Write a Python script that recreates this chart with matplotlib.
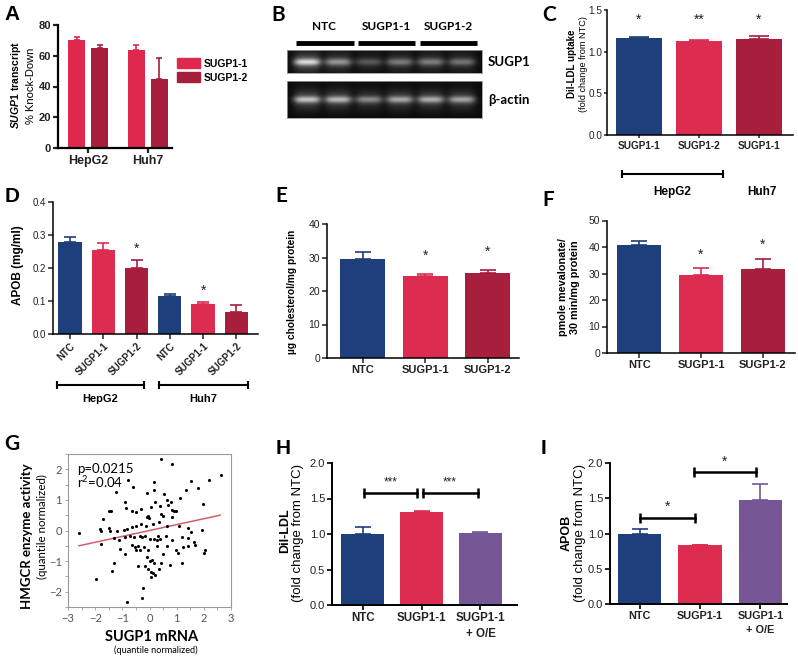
import numpy as np
import matplotlib
matplotlib.use('Agg')
import matplotlib.pyplot as plt
from matplotlib.patches import Patch
from matplotlib.transforms import blended_transform_factory as blend

plt.rcParams['font.family'] = ['Liberation Sans', 'DejaVu Sans']
plt.rcParams['mathtext.fontset'] = 'custom'
plt.rcParams['mathtext.it'] = 'Liberation Sans:italic:bold'
plt.rcParams['mathtext.rm'] = 'Liberation Sans:bold'

NAVY = '#1e3f7b'
PINK = '#dc2c50'
CRIMSON = '#a81e3d'
PURPLE = '#765694'
A_PINK = '#e0284f'
A_RED = '#a61e3c'

# ---- data ----
a_groups = ['HepG2', 'Huh7']
a_sugp1_1 = [70.0, 63.5]
a_sugp1_1_err = [2.0, 3.5]
a_sugp1_2 = [65.0, 45.0]
a_sugp1_2_err = [2.2, 13.5]

b_groups = ['NTC', 'SUGP1-1', 'SUGP1-2']
b_sugp1_band = [0.9, 0.6, 0.33, 0.48, 0.5, 0.45]
b_actin_band = [0.8, 0.75, 0.55, 0.68, 0.7, 0.66]

c_labels = ['SUGP1-1', 'SUGP1-2', 'SUGP1-1']
c_values = [1.17, 1.13, 1.155]
c_err = [0.005, 0.015, 0.03]
c_stars = ['*', '**', '*']

d_labels = ['NTC', 'SUGP1-1', 'SUGP1-2', 'NTC', 'SUGP1-1', 'SUGP1-2']
d_values = [0.28, 0.255, 0.20, 0.115, 0.09, 0.067]
d_err = [0.015, 0.021, 0.023, 0.005, 0.007, 0.02]
d_stars = ['', '', '*', '', '*', '']

e_labels = ['NTC', 'SUGP1-1', 'SUGP1-2']
e_values = [29.7, 24.4, 25.4]
e_err = [1.8, 0.8, 1.0]
e_stars = ['', '*', '*']

f_labels = ['NTC', 'SUGP1-1', 'SUGP1-2']
f_values = [40.8, 29.6, 31.8]
f_err = [1.6, 2.3, 3.7]
f_stars = ['', '*', '*']

g_x = [0.42, 0.84, 2.63, -0.79, 0.17, 1.53, 2.2, -1.25, -0.6, -0.09, 0.16, 0.54,
       1.33, 1.77, 1.12, 0.66, -0.89, 0.2, 0.79, 1.98, -0.88, -0.3, 0.04, 0.38,
       0.69, -1.5, -1.4, -0.66, -0.5, -0.05, -0.09, -0.02, 0.42, 0.5, 0.81, 0.91,
       0.84, 0.97, -1.73, -0.3, -0.13, 0.14, 0.36, 0.63, 1.09, 1.4, 1.93, -2.6,
       -1.83, -1.77, -1.5, -1.46, -1.19, -0.95, -0.84, -0.64, -0.48, -1.8, -1.3,
       -1.12, -0.89, -0.73, -0.57, -0.36, -0.26, -0.15, 0.01, 0.16, 0.3, 0.28,
       0.38, 0.59, 0.81, 1.18, 1.4, 1.65, 1.67, 1.51, -1.08, -0.91, -0.63, -0.54,
       -0.5, -0.42, -0.36, -0.2, -0.07, 0.26, 0.48, 0.63, 0.98, 1.06, 1.22, 1.43,
       2.04, 2.0, -1.3, -1.38, -0.42, -0.15, -0.05, 0.01, 0.1, 0.17, 0.14, 0.22,
       0.36, 0.44, 0.75, 1.18, 0.07, -1.96, -0.23, -0.26, -0.81, 0.05, -0.11]
g_y = [2.33, 2.18, 1.83, 1.66, 1.58, 1.62, 1.65, 1.25, 1.43, 1.23, 1.31, 1.18,
       1.32, 1.38, 1.05, 0.99, 0.93, 0.94, 0.93, 0.88, 0.74, 0.71, 0.77, 0.79,
       0.82, 0.63, 0.63, 0.63, 0.6, 0.49, 0.44, 0.41, 0.55, 0.49, 0.44, 0.63,
       0.68, 0.65, 0.38, 0.21, 0.14, 0.21, 0.28, 0.14, 0.16, 0.08, 0.03, -0.08,
       0.05, 0.0, 0.08, -0.03, -0.03, 0.03, 0.05, 0.1, 0.14, -0.44, -0.25,
       -0.3, -0.21, -0.19, -0.22, -0.17, -0.21, -0.17, -0.28, -0.28, -0.17, -0.3,
       -0.27, -0.19, -0.3, -0.21, -0.25, -0.36, -0.47, -0.05, -0.61, -0.78, -0.47, -0.54,
       -0.63, -0.52, -0.63, -0.54, -0.63, -0.5, -0.77, -0.5, -0.65, -0.72, -0.54, -0.52,
       -0.63, -0.74, -1.07, -1.31, -1.16, -1.16, -1.27, -1.01, -0.96, -1.07, -1.4, -1.47,
       -1.27, -1.07, -1.12, -1.07, -1.51, -1.58, -1.89, -2.19, -2.33, -1.34, -0.85]
g_fit_x = [-2.6, 2.6]
g_fit_y = [-0.5, 0.5]

hi_labels = ['NTC', 'SUGP1-1', 'SUGP1-1\n+ O/E']
h_values = [1.0, 1.31, 1.02]
h_err = [0.1, 0.01, 0.005]
i_values = [1.0, 0.83, 1.48]
i_err = [0.06, 0.01, 0.22]

W, H = 798, 658
fig = plt.figure(figsize=(W / 100, H / 100), dpi=100)


def add_ax(l, t, r, b):
    return fig.add_axes([l / W, 1 - b / H, (r - l) / W, (b - t) / H])


def ftext(x, y, s, **kw):
    fig.text(x / W, 1 - y / H, s, ha=kw.pop('ha', 'center'), va=kw.pop('va', 'center'), **kw)


def style(ax, lw=1.1, size=7.5, weight='normal', length=3.5):
    for s in ['top', 'right']:
        ax.spines[s].set_visible(False)
    for s in ['left', 'bottom']:
        ax.spines[s].set_linewidth(lw)
    ax.tick_params(length=length, width=lw, labelsize=size, colors='#222', pad=1.5)
    for t in ax.get_yticklabels():
        t.set_fontweight(weight)


def bars(ax, x, values, err, colors, width, capsize):
    ax.bar(x, values, width, color=colors, zorder=2)
    for xi, v, e, c in zip(x, values, err, colors):
        ax.errorbar(xi, v, yerr=[[0], [e]], color=c, capsize=capsize,
                    elinewidth=1.2, capthick=1.2, zorder=3)


def stars(ax, x, values, err, marks, pad, size=10):
    for xi, v, e, m in zip(x, values, err, marks):
        if m:
            ax.text(xi, v + e + pad, m, ha='center', va='center', fontsize=size, color='#222')


def bracket(ax, x0, x1, y, trans, lw=1.5, ms=6):
    ax.plot([x0, x1], [y, y], color='k', lw=lw, marker='|', markersize=ms,
            mew=lw, transform=trans, clip_on=False)


# panel letters
for lab, x, y, fam in [('A', 12, 15, 'Liberation Sans'), ('B', 278, 15, 'Lato'),
                       ('C', 549, 15, 'Lato'), ('D', 12, 197, 'Liberation Sans'),
                       ('E', 281, 196, 'Lato'), ('F', 548, 200, 'Lato'),
                       ('G', 12, 444, 'Lato'), ('H', 283, 448, 'Liberation Sans'),
                       ('I', 543, 448, 'Liberation Sans')]:
    ftext(x, y, lab, fontsize=15, fontweight='bold', family=fam)

# ---- A ----
ax = add_ax(58, 25, 172, 148)
xa = np.arange(len(a_groups))
off = 0.193
bars(ax, xa - off, a_sugp1_1, a_sugp1_1_err, [A_PINK] * 2, 0.286, 2.5)
bars(ax, xa + off, a_sugp1_2, a_sugp1_2_err, [A_RED] * 2, 0.286, 2.5)
ax.set_xlim(-0.504, 1.41)
ax.set_ylim(0, 80)
ax.set_yticks([0, 20, 40, 60, 80])
ax.set_xticks(xa)
ax.set_xticklabels(a_groups, fontweight='bold', fontsize=9)
style(ax, lw=1.6, size=8, weight='bold')
ax.tick_params(axis='x', labelsize=9)
ftext(16, 85, r'$\it{SUGP1}$ transcript', rotation=90, fontsize=7.5, fontweight='bold')
ftext(31, 86, '% Knock-Down', rotation=90, fontsize=8)
fig.legend(handles=[Patch(color=A_PINK, label='SUGP1-1'), Patch(color=A_RED, label='SUGP1-2')],
           loc='upper left', bbox_to_anchor=(177 / W, 1 - 58 / H), frameon=False,
           prop={'weight': 'bold', 'size': 7.5}, handlelength=2.2, handleheight=1.1,
           handletextpad=0.4, borderpad=0, borderaxespad=0, labelspacing=0.35)


# ---- B ----
def blot_image(intensity, yc, sig):
    xs = np.linspace(-0.65, 5.65, 390)
    ys = np.linspace(0, 1, 80)
    X, Y = np.meshgrid(xs, ys)
    img = np.full(X.shape, 0.05)
    for i, v in enumerate(intensity):
        lane = np.exp(-((X - i) / 0.44) ** 4)
        core = np.exp(-((Y - yc) / sig) ** 2)
        glow = np.exp(-((Y - yc) / (sig * 3)) ** 2)
        img += v * lane * (0.6 * core + 0.3 * glow)
    return img


axb1 = add_ax(287, 50, 482, 73)
axb1.imshow(blot_image(b_sugp1_band, 0.52, 0.15), extent=(-0.65, 5.65, 1, 0),
            aspect='auto', cmap='gray', vmin=0, vmax=1)
axb2 = add_ax(287, 81, 482, 118)
axb2.imshow(blot_image(b_actin_band, 0.5, 0.09), extent=(-0.65, 5.65, 1, 0),
            aspect='auto', cmap='gray', vmin=0, vmax=1)
for a in (axb1, axb2):
    a.set_xticks([])
    a.set_yticks([])
    for s in a.spines.values():
        s.set_color('#999')
        s.set_linewidth(0.6)
tb = blend(axb1.transData, axb1.transAxes)
for g, name in enumerate(b_groups):
    axb1.plot([2 * g - 0.35, 2 * g + 1.5], [1.3, 1.3], color='k', lw=3.5,
              solid_capstyle='butt', transform=tb, clip_on=False)
    axb1.text(2 * g + 0.55, 2.0, name, transform=tb, ha='center', va='center',
              fontsize=8.5, fontweight='bold', family='Lato')
ftext(488, 62, 'SUGP1', ha='left', fontsize=9.5, fontweight='bold', family='Lato')
ftext(488, 100, 'β-actin', ha='left', fontsize=9.5, fontweight='bold', family='Lato')

# ---- C ----
ax = add_ax(607, 10, 793, 135)
xc = np.arange(len(c_labels))
bars(ax, xc, c_values, c_err, [NAVY, PINK, CRIMSON], 0.77, 7)
ax.set_xlim(-0.53, 2.57)
ax.set_ylim(0, 1.5)
ax.set_yticks([0, 0.5, 1.0, 1.5])
ax.set_yticklabels(['0.0', '0.5', '1.0', '1.5'])
ax.set_xticks(xc)
ax.set_xticklabels(c_labels, fontweight='bold')
style(ax, size=7.2, length=2.5)
ax.tick_params(axis='y', pad=0.8)
for xi, m in zip(xc, c_stars):
    ax.text(xi, 1.38, m, ha='center', va='center', fontsize=10, color='#222')
tc = blend(ax.transData, ax.transAxes)
bracket(ax, -0.28, 1.4, -0.312, tc)
ax.text(0.56, -0.456, 'HepG2', transform=tc, ha='center', va='center', fontsize=8.5, fontweight='bold')
ax.text(2.06, -0.456, 'Huh7', transform=tc, ha='center', va='center', fontsize=8.5, fontweight='bold')
ftext(572, 64, 'DiI-LDL uptake', rotation=90, fontsize=7, fontweight='bold')
ftext(584, 64, '(fold change from NTC)', rotation=90, fontsize=6.6)

# ---- D ----
ax = add_ax(53, 202, 258, 334)
xd = np.arange(len(d_labels))
bars(ax, xd, d_values, d_err, [NAVY, PINK, CRIMSON] * 2, 0.7, 4.5)
ax.set_xlim(-0.51, 5.65)
ax.set_ylim(0, 0.4)
ax.set_yticks([0, 0.1, 0.2, 0.3, 0.4])
ax.set_yticklabels(['0.0', '0.1', '0.2', '0.3', '0.4'])
ax.set_xticks(xd)
ax.set_xticklabels(d_labels, fontweight='bold', rotation=45, ha='right', rotation_mode='anchor')
style(ax, size=7)
stars(ax, xd, d_values, d_err, d_stars, 0.035)
td = blend(ax.transData, ax.transAxes)
bracket(ax, -0.39, 2.22, -0.386, td)
bracket(ax, 2.67, 5.35, -0.386, td)
ax.text(0.9, -0.49, 'HepG2', transform=td, ha='center', va='center', fontsize=8, fontweight='bold')
ax.text(4.0, -0.49, 'Huh7', transform=td, ha='center', va='center', fontsize=8, fontweight='bold')
ftext(18, 265, 'APOB (mg/ml)', rotation=90, fontsize=8.5, fontweight='bold')

# ---- E ----
ax = add_ax(327, 224, 519, 358)
xe = np.arange(len(e_labels))
bars(ax, xe, e_values, e_err, [NAVY, PINK, CRIMSON], 0.72, 6)
ax.set_xlim(-0.57, 2.5)
ax.set_ylim(0, 40)
ax.set_yticks([0, 10, 20, 30, 40])
ax.set_xticks(xe)
ax.set_xticklabels(e_labels, fontweight='bold', fontsize=8)
style(ax)
ax.tick_params(axis='x', labelsize=8)
stars(ax, xe, e_values, e_err, e_stars, 5.2)
ftext(292, 292, 'µg cholesterol/mg protein', rotation=90, fontsize=7.3, fontweight='bold')

# ---- F ----
ax = add_ax(607, 220.5, 795, 353)
xf = np.arange(len(f_labels))
bars(ax, xf, f_values, f_err, [NAVY, PINK, CRIMSON], 0.72, 6)
ax.set_xlim(-0.52, 2.52)
ax.set_ylim(0, 50)
ax.set_yticks([0, 10, 20, 30, 40, 50])
ax.set_xticks(xf)
ax.set_xticklabels(f_labels, fontweight='bold', fontsize=8)
style(ax)
ax.tick_params(axis='x', labelsize=8)
stars(ax, xf, f_values, f_err, f_stars, 5.2)
ftext(563, 287, 'pmole mevalonate/', rotation=90, fontsize=7.8, fontweight='bold')
ftext(575, 287, '30 min/mg protein', rotation=90, fontsize=7.8, fontweight='bold')

# ---- G ----
ax = add_ax(68, 454, 231, 607)
ax.scatter(g_x, g_y, s=5, color='k', zorder=3, linewidths=0)
ax.plot(g_fit_x, g_fit_y, color='#d06070', lw=1.1, zorder=2)
ax.set_xlim(-3, 3)
ax.set_ylim(-2.5, 2.5)
ax.set_xticks(range(-3, 4))
ax.set_yticks(range(-2, 3))
ax.set_xticks(np.arange(-3, 3.01, 0.5), minor=True)
ax.set_yticks(np.arange(-2.5, 2.51, 0.5), minor=True)
for s in ax.spines.values():
    s.set_color('#999')
    s.set_linewidth(0.8)
ax.tick_params(which='both', length=2.5, width=0.6, color='#999', labelsize=8,
               labelcolor='#555', pad=2)
for t in ax.get_xticklabels() + ax.get_yticklabels():
    t.set_family('Lato')
ax.text(0.055, 0.9, 'p=0.0215', transform=ax.transAxes, fontsize=9.5, family='Lato', va='center')
ax.text(0.055, 0.815, r'r$^\mathregular{2}$=0.04', transform=ax.transAxes, fontsize=9.5, family='Lato', va='center')
ftext(27, 536, 'HMGCR enzyme activity', rotation=90, fontsize=9.5, fontweight='bold', family='Lato')
ftext(42, 527, '(quantile normalized)', rotation=90, fontsize=8.3, family='Lato')
ftext(152, 637, 'SUGP1 mRNA', fontsize=10.5, fontweight='bold', family='Lato')
ftext(156, 650, '(quantile normalized)', fontsize=6.6, family='Lato')

# ---- H ----
ax = add_ax(332, 463, 517, 605)
xh = np.arange(len(hi_labels))
bars(ax, xh, h_values, h_err, [NAVY, PINK, PURPLE], 0.73, 6)
ax.set_xlim(-0.52, 2.62)
ax.set_ylim(0, 2.0)
ax.set_yticks([0, 0.5, 1.0, 1.5, 2.0])
ax.set_yticklabels(['0.0', '0.5', '1.0', '1.5', '2.0'])
ax.set_xticks(xh)
ax.set_xticklabels(hi_labels, fontweight='bold', fontsize=8.3, linespacing=1.5, va='top')
style(ax, lw=1.4, size=8)
ax.tick_params(axis='x', labelsize=8.3)
bracket(ax, 0.02, 0.93, 1.58, ax.transData, lw=1.8, ms=7)
bracket(ax, 1.02, 1.95, 1.58, ax.transData, lw=1.8, ms=7)
ax.text(0.47, 1.72, '***', ha='center', va='center', fontsize=8.5, color='#222')
ax.text(1.48, 1.72, '***', ha='center', va='center', fontsize=8.5, color='#222')
ftext(285, 531, 'DiI-LDL', rotation=90, fontsize=9, fontweight='bold')
ftext(298, 533, '(fold change from NTC)', rotation=90, fontsize=9.5)

# ---- I ----
ax = add_ax(610, 463, 787, 604)
xi_ = np.arange(len(hi_labels))
bars(ax, xi_, i_values, i_err, [NAVY, PINK, PURPLE], 0.72, 6)
ax.set_xlim(-0.49, 2.44)
ax.set_ylim(0, 2.0)
ax.set_yticks([0, 0.5, 1.0, 1.5, 2.0])
ax.set_yticklabels(['0.0', '0.5', '1.0', '1.5', '2.0'])
ax.set_xticks(xi_)
ax.set_xticklabels(hi_labels, fontweight='bold', fontsize=7.8, linespacing=1.5, va='top')
style(ax, lw=1.4, size=8)
ax.tick_params(axis='x', labelsize=7.8)
bracket(ax, 0.0, 0.92, 1.22, ax.transData, lw=1.8, ms=7)
bracket(ax, 0.9, 1.92, 1.87, ax.transData, lw=1.8, ms=7)
ax.text(0.46, 1.38, '*', ha='center', va='center', fontsize=10, color='#222')
ax.text(1.41, 2.02, '*', ha='center', va='center', fontsize=10, color='#222')
ftext(567, 533, 'APOB', rotation=90, fontsize=9, fontweight='bold')
ftext(580, 533, '(fold change from NTC)', rotation=90, fontsize=9.5)

fig.savefig('out.png', dpi=100, facecolor='white')
